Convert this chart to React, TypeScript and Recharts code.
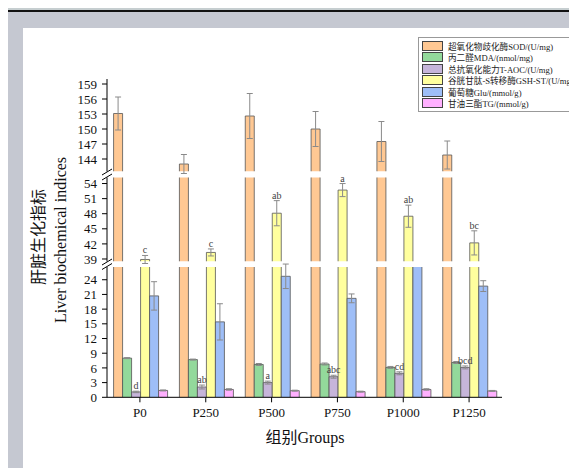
import React from "react"
import { Bar, BarChart, XAxis, YAxis, ErrorBar, LabelList, Legend } from "recharts"

const groups = ["P0", "P250", "P500", "P750", "P1000", "P1250"]

const sod = [153.1, 143.0, 152.6, 150.0, 147.5, 144.8]
const sodSd = [3.3, 1.9, 4.5, 3.5, 4.0, 2.8]
const mda = [8.0, 7.7, 6.7, 6.8, 6.1, 7.1]
const mdaSd = [0.1, 0.1, 0.2, 0.2, 0.2, 0.2]
const taoc = [1.1, 2.1, 3.0, 4.2, 4.9, 6.1]
const taocSd = [0.15, 0.4, 0.3, 0.3, 0.3, 0.3]
const taocLetters = ["d", "ab", "a", "abc", "cd", "bcd"]
const gsh = [38.9, 40.3, 48.1, 52.7, 47.5, 42.2]
const gshSd = [0.8, 0.7, 2.5, 1.3, 2.2, 2.4]
const gshLetters = ["c", "c", "ab", "a", "ab", "bc"]
const glu = [20.7, 15.4, 24.7, 20.2, 30.0, 22.7]
const gluSd = [2.9, 3.7, 2.5, 0.9, undefined, 1.1]
const tg = [1.4, 1.6, 1.35, 1.15, 1.6, 1.3]
const tgSd = [0.1, 0.15, 0.1, 0.1, 0.15, 0.1]

const topTicks = [144, 147, 150, 153, 156, 159]
const midTicks = [39, 42, 45, 48, 51, 54]
const lowTicks = [0, 3, 6, 9, 12, 15, 18, 21, 24]

const data = groups.map((g, i) => ({
  group: g,
  sod: sod[i], sodErr: sodSd[i],
  mda: mda[i], mdaErr: mdaSd[i],
  taoc: taoc[i], taocErr: taocSd[i],
  gsh: gsh[i], gshErr: gshSd[i],
  glu: glu[i], gluErr: gluSd[i],
  tg: tg[i], tgErr: tgSd[i],
}))

const serif = "'Liberation Serif', 'Times New Roman', 'Noto Sans CJK SC', serif"
const W = 577
const H = 476

const segments = {
  top: { domain: [141.5, 160], ticks: topTicks, y0: 79, y1: 171.5 },
  mid: { domain: [38.5, 55.2], ticks: midTicks, y0: 177.5, y1: 261.5 },
  low: { domain: [0, 26.6], ticks: lowTicks, y0: 267, y1: 397.3 },
}

const series = [
  { key: "sod", name: "超氧化物歧化酶SOD/(U/mg)", color: "#FFC893", seg: "top" },
  { key: "mda", name: "丙二醛MDA/(nmol/mg)", color: "#93D99B", seg: "low" },
  { key: "taoc", name: "总抗氧化能力T-AOC/(U/mg)", color: "#C6B5DA", seg: "low" },
  { key: "gsh", name: "谷胱甘肽-S转移酶GSH-ST/(U/mg)", color: "#FFFF9E", seg: "mid" },
  { key: "glu", name: "葡萄糖Glu/(mmol/g)", color: "#9EBEF7", seg: "low" },
  { key: "tg", name: "甘油三酯TG/(mmol/g)", color: "#FFB0FF", seg: "low" },
]

const letterLabel = (values: number[], errs: number[], letters: string[], base: number) => (p: any) => {
  const { x, y, width, height, index } = p
  const px = height / (values[index] - base)
  const top = y - errs[index] * px
  return (
    <text key={index} x={x + width / 2} y={top - 2} textAnchor="middle" fontSize={10} fontFamily={serif} fill="#444">
      {letters[index]}
    </text>
  )
}

// bar without an outline on its bottom edge, so the axis breaks stay clean
const barShape = (min: number, color: string) => (p: any) => {
  const { x, y, width, height, value } = p
  const v = Array.isArray(value) ? value[1] : value
  if (v == null || v <= min || !(height > 0)) return <g />
  return (
    <g>
      <rect x={x} y={y} width={width} height={height} fill={color} />
      <path d={`M${x},${y + height}V${y}H${x + width}V${y + height}`} fill="none" stroke="#555" strokeWidth={0.8} />
    </g>
  )
}

const LegendBox = () => (
  <div style={{ background: "#fff", border: "1px solid #999", padding: "2px 3px", width: 170, fontFamily: serif }}>
    {series.map((s) => (
      <div key={s.key} style={{ display: "flex", alignItems: "center", height: 11.5 }}>
        <span style={{ display: "inline-block", width: 19, height: 8, background: s.color, border: "1px solid #444", marginRight: 5 }} />
        <span style={{ fontSize: 8.6, color: "#222", whiteSpace: "nowrap" }}>{s.name}</span>
      </div>
    ))}
  </div>
)

const Segment = ({ segKey }: { segKey: "top" | "mid" | "low" }) => {
  const seg = segments[segKey]
  const isLow = segKey === "low"
  const xAxisH = 30
  return (
    <div style={{ position: "absolute", left: 0, top: 0 }}>
      <BarChart
        width={W}
        height={H}
        data={data}
        barCategoryGap="10%"
        barGap={0}
        margin={{ top: seg.y0, bottom: isLow ? H - seg.y1 - xAxisH : H - seg.y1, left: 67, right: 75 }}
      >
        <XAxis
          dataKey="group"
          hide={!isLow}
          height={xAxisH}
          stroke="#000"
          tickSize={5}
          tick={{ fill: "#111", fontSize: 13, fontFamily: serif, dy: 3 }}
        />
        <YAxis
          width={40}
          type="number"
          domain={seg.domain}
          ticks={seg.ticks}
          allowDataOverflow
          interval={0}
          stroke="#000"
          tickSize={5}
          tick={{ fill: "#111", fontSize: 13, fontFamily: serif, dx: -3 }}
        />
        {segKey === "top" && (
          <Legend
            layout="horizontal"
            verticalAlign="middle"
            align="center"
            content={<LegendBox />}
            wrapperStyle={{ left: 418, top: 37, width: 180 }}
          />
        )}
        {series.map((s) => (
          <Bar
            key={s.key}
            dataKey={s.key}
            name={s.name}
            fill={s.color}
            shape={barShape(seg.domain[0], s.color)}
            isAnimationActive={false}
          >
            {s.seg === segKey && (
              <ErrorBar dataKey={s.key + "Err"} width={3} stroke="#8a8a8a" strokeWidth={1} direction="y" />
            )}
            {s.seg === segKey && s.key === "gsh" && (
              <LabelList dataKey="gsh" content={letterLabel(gsh, gshSd, gshLetters, seg.domain[0])} />
            )}
            {s.seg === segKey && s.key === "taoc" && (
              <LabelList dataKey="taoc" content={letterLabel(taoc, taocSd, taocLetters, seg.domain[0])} />
            )}
          </Bar>
        ))}
      </BarChart>
    </div>
  )
}

export default function App() {
  const breaks = [
    [segments.top.y1, segments.mid.y0],
    [segments.mid.y1, segments.low.y0],
  ]
  return (
    <div style={{ position: "relative", width: W, height: H, margin: -8, overflow: "hidden", background: "#C6CED0" }}>
      <div style={{ position: "absolute", left: 6, top: 10, right: -10, bottom: -10, background: "#C5C8D1", borderLeft: "2px solid #111", borderTop: "2px solid #111" }} />
      <div style={{ position: "absolute", left: 23, top: 28, width: 560, height: 442, background: "#fff" }} />
      <Segment segKey="top" />
      <Segment segKey="mid" />
      <Segment segKey="low" />
      <svg width={W} height={H} style={{ position: "absolute", left: 0, top: 0, pointerEvents: "none" }}>
        {breaks.map(([a, b], i) => (
          <g key={i} stroke="#000" strokeWidth={1}>
            <line x1={102} y1={a + 3.5} x2={112} y2={a - 2.5} />
            <line x1={102} y1={b + 2.5} x2={112} y2={b - 3.5} />
          </g>
        ))}
        <text x={66} y={240} transform="rotate(-90 66 240)" textAnchor="middle" fontSize={16} fontFamily={serif} fill="#111">
          Liver biochemical indices
        </text>
        <text x={44} y={237} transform="rotate(-90 44 237)" textAnchor="middle" fontSize={16} fontFamily={serif} fill="#111">
          肝脏生化指标
        </text>
        <text x={305} y={443} textAnchor="middle" fontSize={16} fontFamily={serif} fill="#111">
          组别Groups
        </text>
      </svg>
    </div>
  )
}
